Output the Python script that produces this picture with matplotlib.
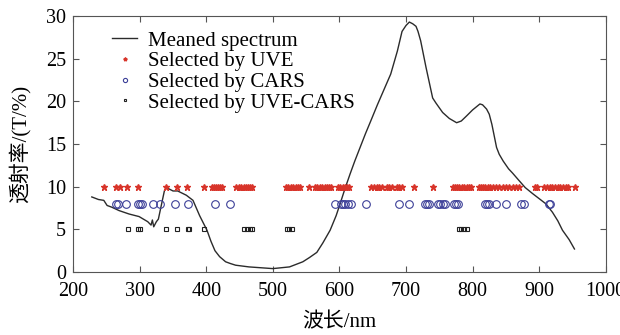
import numpy as np
import matplotlib.pyplot as plt

plt.rcParams['font.family'] = ['Liberation Serif', 'Noto Sans CJK SC']

# Meaned spectrum
wl = [228, 238, 246, 251, 258, 269, 284, 299, 312, 317, 319, 321, 325, 328,
      337, 340, 350, 357, 370, 380, 390, 401, 407, 413, 420, 429, 436, 444, 464,
      500, 525, 545, 555, 566, 575, 586, 595, 601, 608, 616, 623, 631, 639, 647,
      657, 667, 677, 687, 694, 700, 705, 710, 715, 718, 722, 730, 735, 740, 745,
      755, 765, 776, 783, 791, 800, 811, 815, 821, 825, 829, 836, 840, 846, 854,
      860, 870, 879, 890, 900, 910, 920, 928, 935, 945, 953]
spec = [8.8, 8.5, 8.4, 7.8, 7.6, 7.2, 6.8, 6.5, 5.9, 5.5, 6.1, 5.3, 5.9, 6.2,
        9.5, 9.9, 9.5, 9.5, 9.0, 8.4, 6.6, 4.9, 3.6, 2.5, 1.8, 1.2, 1.0, 0.8, 0.6,
        0.4, 0.6, 1.2, 1.7, 2.3, 3.4, 4.9, 6.6, 8.0, 9.7, 11.5, 13.0, 14.6, 16.2, 17.7,
        19.6, 21.4, 23.2, 25.9, 28.2, 28.9, 29.3, 29.1, 28.8, 28.2, 27.1, 24.0, 22.2, 20.4, 19.8,
        18.7, 18.0, 17.5, 17.7, 18.3, 19.0, 19.7, 19.6, 19.1, 18.5, 17.3, 14.6, 13.8, 13.0, 12.1,
        11.6, 10.7, 9.9, 9.2, 8.6, 8.0, 7.0, 6.0, 4.9, 3.8, 2.7]

# selected wavelengths
uve = [246, 264, 270, 281, 298, 339, 356, 371, 397, 408, 411, 414, 417, 420, 424,
       445, 449, 452, 456, 459, 463, 466, 469, 520, 523, 527, 530, 534, 537, 541,
       555, 564, 567, 571, 574, 578, 581, 585, 588, 598, 601, 605, 608, 612, 615,
       648, 652, 656, 660, 664, 671, 675, 679, 686, 690, 694, 712, 740,
       770, 773, 777, 780, 784, 787, 791, 795, 798, 809, 812, 816, 819, 823, 826,
       830, 835, 840, 845, 850, 855, 860, 865, 869, 893, 897, 908, 912, 916, 920,
       924, 928, 932, 936, 940, 944, 954]
cars = [264, 268, 279, 297, 301, 304, 320, 331, 353, 372, 413, 436, 594, 603, 606,
        609, 613, 618, 640, 689, 704, 728, 731, 734, 748, 751, 755, 758, 772, 775,
        778, 819, 822, 824, 835, 850, 873, 877, 915, 917]
uve_cars = [282, 297, 300, 339, 356, 372, 374, 397, 457, 461, 465, 469, 521, 524,
            528, 779, 783, 787, 791]

fig = plt.figure(figsize=(6.2, 3.35), dpi=100)
ax = fig.add_axes([0.118, 0.188, 0.859, 0.764])

ax.plot(wl, spec, color='#2b2b2b', lw=1.0, label='Meaned spectrum')
ax.plot(uve, [10] * len(uve), ls='none', marker='*', ms=5, color='#d8342a',
        label='Selected by UVE')
ax.plot(cars, [8] * len(cars), ls='none', marker='o', ms=5.5, mfc='none',
        mec='#3c3f98', mew=0.8, label='Selected by CARS')
ax.plot(uve_cars, [5] * len(uve_cars), ls='none', marker='s', ms=3, mfc='none',
        mec='#222222', mew=0.8, label='Selected by UVE-CARS')

ax.set_xlim(200, 1000)
ax.set_ylim(0, 30)
ax.set_xticks(np.arange(200, 1001, 100))
ax.set_yticks(np.arange(0, 31, 5))
ax.tick_params(direction='in', top=True, right=True, labelsize=14.5, length=4,
               color='#555555')
ax.tick_params(axis='x', pad=7)
ax.tick_params(axis='y', pad=5)
for s in ax.spines.values():
    s.set_color('#555555')

ax.set_xlabel('波长/nm', fontsize=15, labelpad=9)
ax.set_ylabel('透射率/(T/%)', fontsize=15, labelpad=11)

ax.legend(loc='upper left', bbox_to_anchor=(0.05, 0.99), frameon=False,
          fontsize=15, handlelength=1.2, handletextpad=0.5, labelspacing=0.05,
          borderaxespad=0.2, markerscale=0.55)

fig.savefig('out.png', dpi=100)
